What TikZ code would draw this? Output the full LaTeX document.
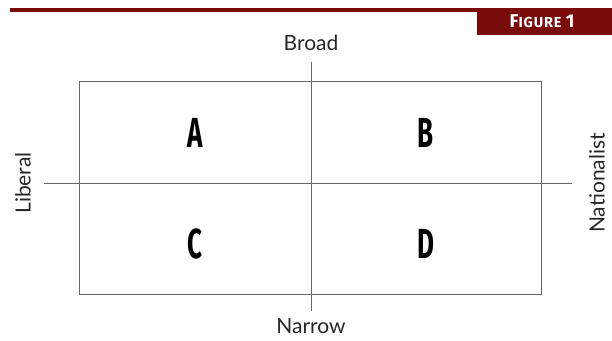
\documentclass[tikz,border=0pt]{standalone}
\usepackage{fontspec}
\setmainfont{Lato}
\newfontfamily\figfont[LetterSpace=6]{Fira Sans}
\newfontfamily\quadfont{Fira Sans}
\usepackage{graphicx}
\definecolor{maroon}{HTML}{7A0B0B}
\definecolor{axisgray}{HTML}{666666}
\tikzset{
  axisline/.style={draw=axisgray, line width=0.9pt},
  quadbox/.style={draw=axisgray, line width=0.9pt},
  axislabel/.style={font=\fontsize{21}{24}\selectfont, text=black!85, inner sep=0pt},
  quadletter/.style={font=\quadfont\bfseries\fontsize{42}{44}\selectfont, inner sep=0pt},
}
\newcommand{\qletter}[1]{\scalebox{0.62}[1]{#1}}
\begin{document}
\begin{tikzpicture}[x=1pt,y=-1pt]
\useasboundingbox (0,0) rectangle (612,340);
% header bar
\fill[maroon] (10,7.5) rectangle (612,11.5);
\fill[maroon] (477,8) rectangle (612,35);
\node[text=white, font=\figfont\bfseries, inner sep=0pt, anchor=base] (fig) at (542,27)
  {\fontsize{18.5}{20}\selectfont F\fontsize{14.5}{16}\selectfont IGURE \fontsize{18.5}{20}\selectfont 1};
% box
\draw[quadbox] (79,81) rectangle (541,294);
% axes
\coordinate (vt) at (311,62);
\coordinate (vb) at (311,311);
\coordinate (hl) at (44,183);
\coordinate (hr) at (572,183);
\draw[axisline] (vt) -- (vb);
\draw[axisline] (hl) -- (hr);
% labels
\node[axislabel] (broad) at (311,43) {Broad};
\node[axislabel] (narrow) at (311,326) {Narrow};
\node[axislabel, rotate=90] (liberal) at (23,183) {Liberal};
\node[axislabel, rotate=90] (nat) at (597,183) {Nationalist};
% quadrant letters
\node[quadletter] (A) at (195,132.5) {\qletter{A}};
\node[quadletter] (B) at (426,132.5) {\qletter{B}};
\node[quadletter] (C) at (195,244) {\qletter{C}};
\node[quadletter] (D) at (426,244) {\qletter{D}};
\end{tikzpicture}
\end{document}
